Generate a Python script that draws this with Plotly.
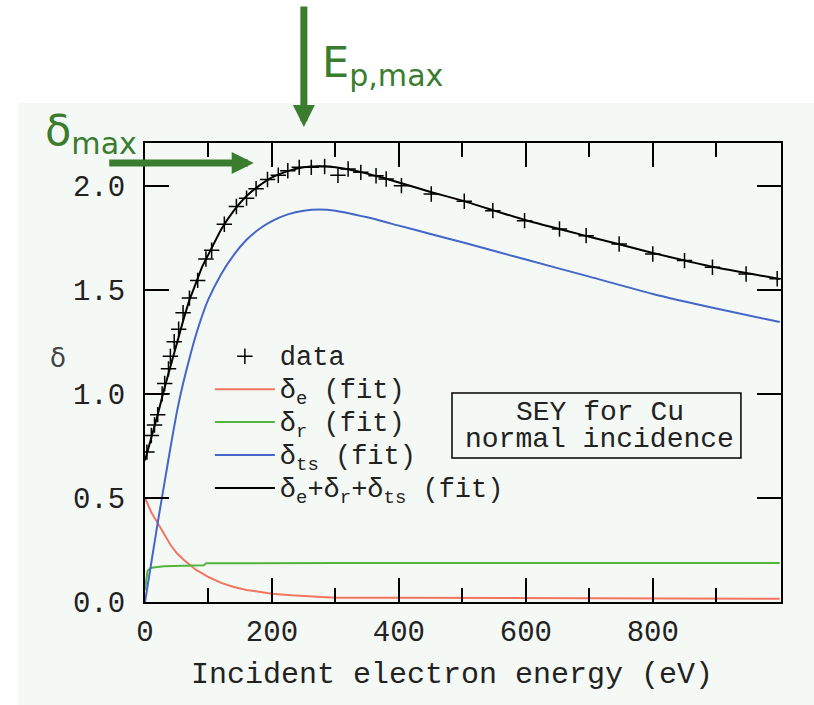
import plotly.graph_objects as go

# ---------------- data ----------------
data_E = [3, 10, 15, 20, 27, 31, 37, 40, 46, 53, 60, 70, 83, 96, 105, 125, 144, 160, 175, 193,
          210, 225, 243, 262, 283, 304, 320, 340, 364, 380, 404, 451, 503, 548, 598, 653,
          695, 747, 800, 850, 894, 947, 996]
data_d = [0.72, 0.80, 0.85, 0.90, 1.00, 1.05, 1.12, 1.18, 1.25, 1.31, 1.39, 1.46, 1.545, 1.648,
          1.69, 1.815, 1.90, 1.94, 1.985, 2.03, 2.05, 2.072, 2.088, 2.088, 2.092, 2.05, 2.08,
          2.064, 2.048, 2.032, 2.00, 1.96, 1.925, 1.88, 1.832, 1.792, 1.76, 1.72, 1.672,
          1.64, 1.608, 1.576, 1.553]

tot_E = [0, 10, 20, 30, 40, 50, 60, 70, 80, 90, 100, 120, 140, 160, 180, 200, 225, 250,
         275, 300, 325, 350, 375, 400, 450, 500, 600, 700, 800, 900, 1000]
tot_d = [0.68, 0.79, 0.90, 1.02, 1.13, 1.24, 1.35, 1.45, 1.53, 1.61, 1.67, 1.79, 1.88, 1.95,
         2.00, 2.04, 2.07, 2.088, 2.093, 2.088, 2.075, 2.058, 2.038, 2.015, 1.97, 1.928,
         1.834, 1.755, 1.677, 1.607, 1.552]

ts_E = [0, 10, 20, 30, 40, 50, 60, 70, 80, 90, 100, 120, 140, 160, 180, 200, 225, 250, 275,
        300, 350, 400, 450, 500, 600, 700, 800, 900, 1000]
ts_d = [0.0, 0.19, 0.38, 0.56, 0.74, 0.91, 1.05, 1.17, 1.28, 1.375, 1.455, 1.575, 1.668,
        1.74, 1.792, 1.83, 1.862, 1.88, 1.886, 1.88, 1.848, 1.808, 1.768, 1.728, 1.645,
        1.563, 1.48, 1.41, 1.345]

e_E = [0, 5, 10, 20, 30, 40, 50, 60, 80, 100, 120, 140, 160, 180, 200, 230, 260, 300, 400,
       600, 800, 1000]
e_d = [0.50, 0.46, 0.43, 0.38, 0.325, 0.275, 0.235, 0.205, 0.155, 0.12, 0.092, 0.072, 0.058,
       0.048, 0.04, 0.032, 0.026, 0.021, 0.02, 0.018, 0.017, 0.016]

r_E = [0, 4, 10, 30, 93, 96, 300, 600, 1000]
r_d = [0.06, 0.15, 0.165, 0.172, 0.176, 0.186, 0.187, 0.187, 0.187]

x_ticks = [0, 200, 400, 600, 800]
x_minor = [100, 300, 500, 700, 900]
y_ticks = [0.0, 0.5, 1.0, 1.5, 2.0]

MONO = "Liberation Mono"
GREEN = "#3b7d2e"
BG = "#f5f9f6"


def big(s):
    return '<span style="font-size:27px">' + s + "</span>"


fig = go.Figure()
fig.add_trace(go.Scatter(x=e_E, y=e_d, mode="lines", name=big("δ<sub>e</sub> (fit)"),
                         line=dict(color="#f2765f", width=2), legendrank=2))
fig.add_trace(go.Scatter(x=r_E, y=r_d, mode="lines", name=big("δ<sub>r</sub> (fit)"),
                         line=dict(color="#52b43c", width=2), legendrank=3))
fig.add_trace(go.Scatter(x=ts_E, y=ts_d, mode="lines", name=big("δ<sub>ts</sub> (fit)"),
                         line=dict(color="#4466c8", width=2, shape="spline", smoothing=0.5),
                         legendrank=4))
fig.add_trace(go.Scatter(x=tot_E, y=tot_d, mode="lines",
                         name=big("δ<sub>e</sub>+δ<sub>r</sub>+δ<sub>ts</sub> (fit)"),
                         line=dict(color="black", width=2, shape="spline", smoothing=0.5),
                         legendrank=5))
fig.add_trace(go.Scatter(x=data_E, y=data_d, mode="markers", name=big("data"),
                         marker=dict(symbol="cross-thin", size=11, color="black",
                                     line=dict(color="black", width=1.5)),
                         legendrank=1))

axis_common = dict(showline=True, linecolor="black", linewidth=2, mirror="ticks",
                   ticks="inside", ticklen=24, tickwidth=1.5, tickcolor="black",
                   showgrid=False, zeroline=False,
                   tickfont=dict(family=MONO, size=29, color="#222"))

fig.update_xaxes(range=[0, 1002], tickmode="array", tickvals=x_ticks,
                 minor=dict(tickmode="array", tickvals=x_minor, ticks="inside",
                            ticklen=14, tickwidth=1.5, tickcolor="black"),
                 ticklabelstandoff=2, **axis_common)
fig.update_yaxes(range=[0, 2.205], tickmode="array", tickvals=y_ticks, tickformat=".1f",
                 ticklabelstandoff=12, **axis_common)

fig.add_shape(type="rect", xref="paper", yref="paper", x0=-0.2, x1=1.1, y0=-0.3, y1=1.0871,
              fillcolor=BG, line=dict(width=0), layer="below")
# text box
fig.add_shape(type="rect", xref="paper", yref="paper", x0=0.4827, x1=0.937,
              y0=0.3137, y1=0.4553, line=dict(color="black", width=1.5))

ann = []
ann.append(dict(text="SEY for Cu", x=0.7154, y=0.4118, xref="paper", yref="paper",
                xanchor="center", yanchor="middle", showarrow=False,
                font=dict(family=MONO, size=28, color="#222")))
ann.append(dict(text="normal incidence", x=0.7154, y=0.353, xref="paper", yref="paper",
                xanchor="center", yanchor="middle", showarrow=False,
                font=dict(family=MONO, size=28, color="#222")))
ann.append(dict(text="Incident electron energy (eV)", x=0.483, y=-0.159, xref="paper",
                yref="paper", xanchor="center", yanchor="middle", showarrow=False,
                font=dict(family=MONO, size=30, color="#222")))
ann.append(dict(text="δ", x=-0.137, y=0.532, xref="paper", yref="paper", showarrow=False,
                xanchor="center", yanchor="middle",
                font=dict(family="DejaVu Sans", size=26, color="#444")))
# arrows
ann.append(dict(text="", x=0.2498, y=1.0349, xref="paper", yref="paper", showarrow=True,
                ax=0, ay=-122, arrowhead=2, arrowsize=0.63, arrowwidth=7, arrowcolor=GREEN))
ann.append(dict(text="", x=0.171, y=0.9564, xref="paper", yref="paper", showarrow=True,
                ax=-146, ay=0, arrowhead=2, arrowsize=0.63, arrowwidth=7, arrowcolor=GREEN))
ann.append(dict(text="E<sub>p,max</sub>", x=0.275, y=1.17, xref="paper", yref="paper",
                xanchor="left", yanchor="middle", showarrow=False,
                font=dict(family="DejaVu Sans", size=43, color=GREEN)))
ann.append(dict(text="δ<sub>max</sub>", x=-0.16, y=1.022, xref="paper", yref="paper",
                xanchor="left", yanchor="middle", showarrow=False,
                font=dict(family="DejaVu Sans", size=43, color=GREEN)))

fig.update_layout(
    width=814, height=705,
    margin=dict(l=145, r=33, t=143, b=103),
    paper_bgcolor="white", plot_bgcolor=BG,
    annotations=ann,
    showlegend=True,
    legend=dict(x=0.102, y=0.582, xanchor="left", yanchor="top",
                bgcolor="rgba(0,0,0,0)", borderwidth=0, itemwidth=60,
                font=dict(family=MONO, size=23, color="#222"), tracegroupgap=0),
)

fig.write_html("out.html")
